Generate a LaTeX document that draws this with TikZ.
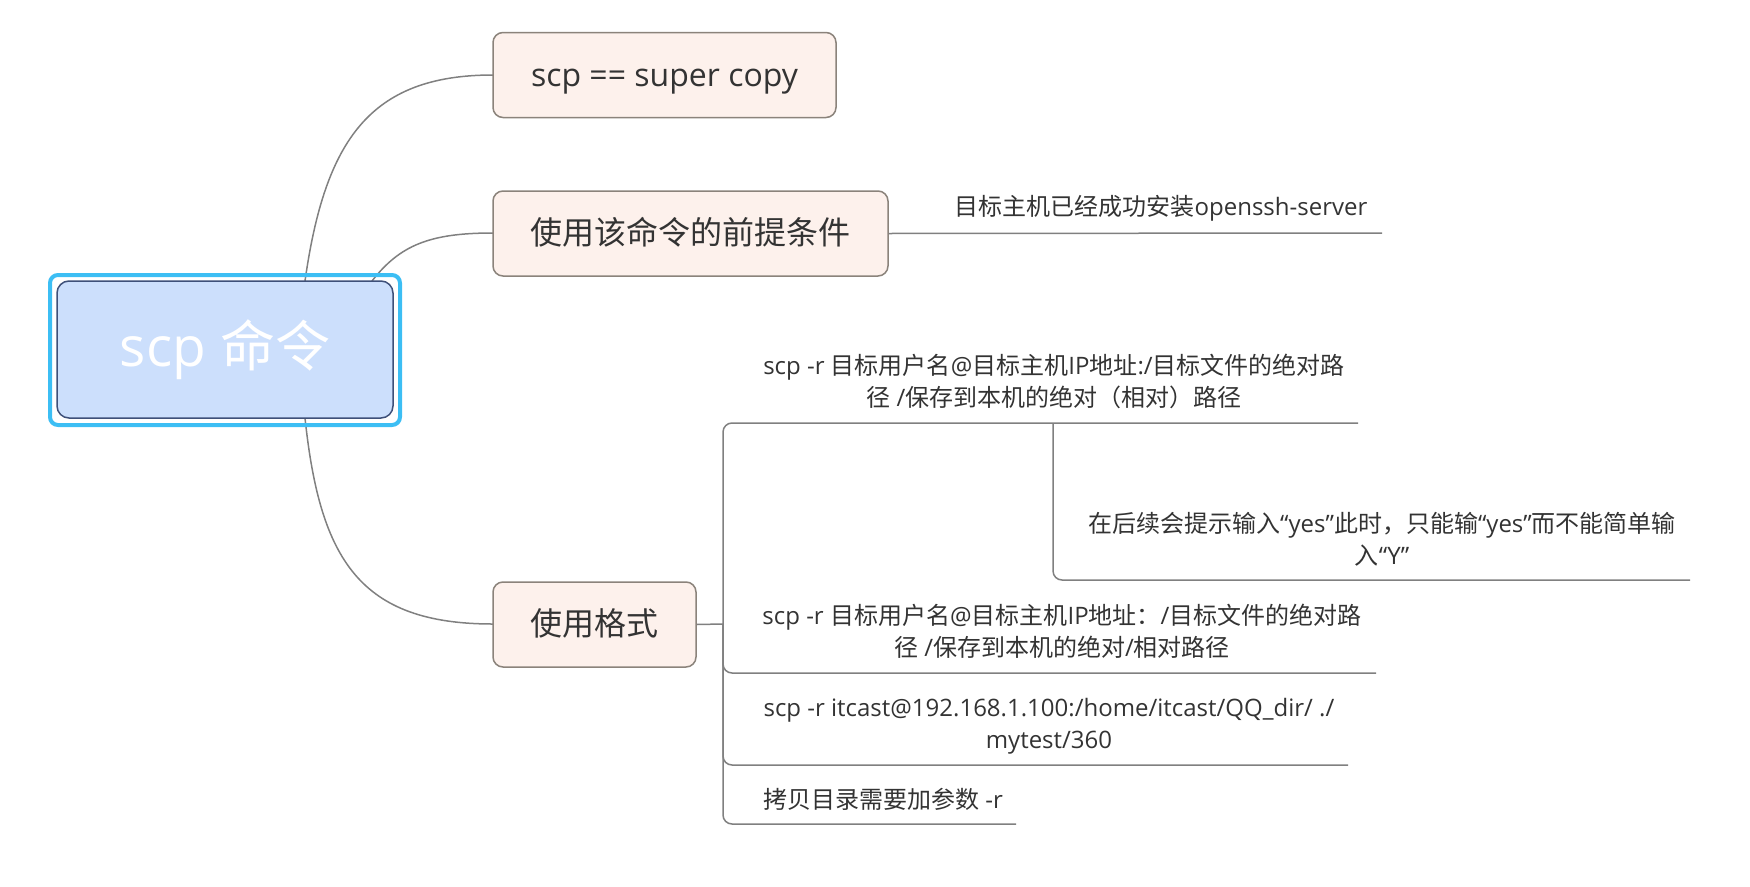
\documentclass[tikz,border=0pt]{standalone}
\usepackage{fontspec}
\setmainfont{Open Sans}
\newfontfamily\cjk{Noto Sans CJK SC}
\usepackage{xcolor}
\usepackage{tikz}
\definecolor{edgegray}{HTML}{808080}
\definecolor{topicfill}{HTML}{FDF1EC}
\definecolor{topicline}{HTML}{8B837B}
\definecolor{rootfill}{HTML}{CCDFFC}
\definecolor{rootline}{HTML}{3E5079}
\definecolor{rootglow}{HTML}{3CBEF4}
\definecolor{textdark}{HTML}{333333}
\tikzset{
  root frame/.style={draw=rootglow, line width=4pt, rounded corners=8pt, minimum width=350pt, minimum height=150pt, inner sep=0pt},
  root topic/.style={draw=rootline, fill=rootfill, line width=1.5pt, rounded corners=12pt, minimum width=336pt, minimum height=137pt, inner sep=0pt, text=white, font=\fontsize{55}{60}\selectfont},
  main topic/.style={draw=topicline, fill=topicfill, line width=1.5pt, rounded corners=10pt, minimum height=85pt, inner sep=0pt, text height=29pt, text depth=7pt, text=textdark, font=\fontsize{32}{38}\selectfont},
  leaf text/.style={text=textdark, align=center, inner sep=0pt, font=\fontsize{24}{32}\selectfont},
  branch edge/.style={draw=edgegray, line width=1.5pt},
  sub edge/.style={draw=edgegray, line width=1.5pt, rounded corners=9pt}
}

\begin{document}
\begin{tikzpicture}[x=1pt, y=-1pt]
  \useasboundingbox (0,0) rectangle (1750,886);

  % curved links from the central topic
  \draw[branch edge] (305,281) .. controls (325,140) and (370,75) .. (493,75);
  \draw[branch edge] (372,281) .. controls (400,245) and (430,233) .. (493,233);
  \draw[branch edge] (305,418) .. controls (320,560) and (360,624) .. (493,624);

  \node[root frame] (rootframe) at (225,350) {};
  \node[root topic] (root) at (225,349.5) {scp {\cjk 命令}};

  \node[main topic, minimum width=343pt] (alias) at (664.5,75) {scp == super copy};
  \node[main topic, minimum width=395pt] (premise) at (690.5,233.5) {\cjk 使用该命令的前提条件};
  \node[main topic, minimum width=203pt] (usage) at (594.5,624.5) {\cjk 使用格式};

  % premise branch
  \node[leaf text] (server) at (1161,208) {{\cjk 目标主机已经成功安装}openssh-server};
  \coordinate (serverend) at (1382,233);
  \draw[branch edge] (premise.east) -- (serverend);

  % usage branches
  \coordinate (hub) at (723,624);
  \draw[branch edge] (usage.east) -- (hub);

  \node[leaf text] (fmtone) at (1054,381) {scp -r {\cjk 目标用户名}@{\cjk 目标主机}IP{\cjk 地址}:/{\cjk 目标文件的绝对路}\\{\cjk 径} /{\cjk 保存到本机的绝对（相对）路径}};
  \coordinate (fmtoneend) at (1358,423);
  \coordinate (fmtonejoin) at (1053,423);
  \draw[sub edge] (hub) |- (fmtoneend);

  \node[leaf text] (yesnote) at (1382,539) {{\cjk 在后续会提示输入}“yes”{\cjk 此时，只能输}“yes”{\cjk 而不能简单输}\\{\cjk 入}“Y”};
  \coordinate (yesnoteend) at (1690,580);
  \draw[sub edge] (fmtonejoin) |- (yesnoteend);

  \node[leaf text] (fmttwo) at (1062,631) {scp -r {\cjk 目标用户名}@{\cjk 目标主机}IP{\cjk 地址：}/{\cjk 目标文件的绝对路}\\{\cjk 径} /{\cjk 保存到本机的绝对}/{\cjk 相对路径}};
  \coordinate (fmttwoend) at (1376,673);
  \draw[sub edge] (hub) |- (fmttwoend);

  \node[leaf text] (example) at (1049,726.5) {scp -r itcast@192.168.1.100:/home/itcast/QQ\_dir/ ./\\mytest/360};
  \coordinate (exampleend) at (1348,765);
  \draw[sub edge] (hub) |- (exampleend);

  \node[leaf text] (dirflag) at (883,799) {{\cjk 拷贝目录需要加参数} -r};
  \coordinate (dirflagend) at (1016,824);
  \draw[sub edge] (hub) |- (dirflagend);
\end{tikzpicture}
\end{document}
